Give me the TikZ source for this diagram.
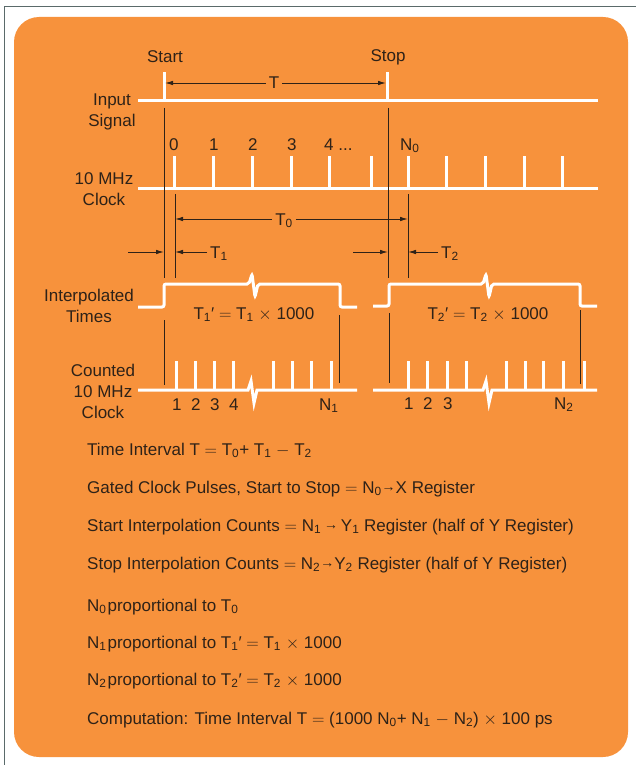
\documentclass[tikz,border=0pt]{standalone}
\usepackage{fontspec}
\setmainfont{Liberation Sans}
\usepackage{xcolor}
\definecolor{panel-orange}{HTML}{F7923C}
\definecolor{panel-ink}{HTML}{2E2218}
\definecolor{panel-wave}{HTML}{FFFFFF}
\definecolor{panel-frame}{HTML}{5A6A6A}
\usetikzlibrary{arrows.meta}

\newcommand{\regarrow}{\raisebox{1.5pt}{\fontsize{14}{14}\selectfont →}}
\newcommand{\tms}{\(\times\)}
\newcommand{\eqs}{\(=\)}
\newcommand{\mns}{\(-\)}

\tikzset{
    wave/.style={panel-wave, line width=3pt},
    guide/.style={panel-ink, line width=0.9pt},
    dim/.style={panel-ink, line width=0.9pt, -{Latex[length=8pt,width=4.5pt]}},
    lbl/.style={text=panel-ink, font=\fontsize{17}{21}\selectfont, inner sep=1pt},
    dimlbl/.style={lbl, text height=12pt, text depth=0pt, inner sep=3pt},
    sidelbl/.style={lbl, align=center},
    listlbl/.style={lbl, anchor=base west},
}

\begin{document}
\begin{tikzpicture}[x=1pt, y=-1pt]

    \useasboundingbox (0,0) rectangle (636,765);

    % Frame
    \draw[panel-frame, line width=0.8pt] (4,765) -- (4,6) -- (636,6);

    % Background
    \fill[panel-orange, rounded corners=25pt] (14,17) rectangle (628,757);

    % Input signal
    \draw[wave] (138,101) -- (598,101);
    \draw[wave] (164,101) -- (164,72);
    \draw[wave] (387,101) -- (387,72);

    % 10 MHz clock
    \draw[wave] (138,188) -- (598,188);
    \foreach \x in {174,213,252,291,329,371,408,446,485,524,562}
        \draw[wave] (\x,188) -- (\x,156);

    % Interpolated times
    \draw[wave, rounded corners=2pt] (138,307) -- (164,307) -- (164,284) -- (249,284)
        -- (252,274) -- (255,297) -- (258,284) -- (340,284) -- (340,307) -- (357,307);
    \draw[wave, rounded corners=2pt] (373,306) -- (389,306) -- (389,284) -- (483,284)
        -- (486,274) -- (489,297) -- (492,284) -- (580,284) -- (580,306) -- (597,306);

    % Counted clock
    \draw[wave] (138,390) -- (248,390) -- (251,381) -- (254,403) -- (257,390) -- (357,390);
    \foreach \x in {176,195,214,233,273,292,311,331}
        \draw[wave] (\x,390) -- (\x,361);
    \draw[wave] (373,390) -- (483,390) -- (486,381) -- (489,403) -- (492,390) -- (597,390);
    \foreach \x in {408,427,447,466,506,525,543,563,584}
        \draw[wave] (\x,390) -- (\x,361);

    % Guide lines
    \draw[guide] (164,108) -- (164,278);
    \draw[guide] (175,194) -- (175,278);
    \draw[guide] (388,108) -- (388,278);
    \draw[guide] (408,194) -- (408,278);
    \draw[guide] (164,320) -- (164,385);
    \draw[guide] (339,315) -- (339,383);
    \draw[guide] (389,313) -- (389,383);
    \draw[guide] (580,310) -- (580,384);

    % Signal names
    \node[lbl] (start) at (165,57) {Start};
    \node[lbl] (stop) at (388,57) {Stop};
    \node[sidelbl] (input) at (112,111.5) {Input\\Signal};
    \node[sidelbl] (clock) at (104,189.5) {10 MHz\\Clock};
    \node[sidelbl] (interp) at (89,306) {Interpolated\\Times};
    \node[sidelbl] (counted) at (103,391.5) {Counted\\10 MHz\\Clock};

    % Clock counts
    \node[listlbl] (c0) at (168,150) {0};
    \node[listlbl] (c1) at (208,150) {1};
    \node[listlbl] (c2) at (247,150) {2};
    \node[listlbl] (c3) at (286,150) {3};
    \node[listlbl] (c4) at (323,150) {4 ...};
    \node[listlbl] (cn0) at (399,150) {N\textsubscript{0}};

    \node[listlbl] (a1) at (171,410) {1};
    \node[listlbl] (a2) at (190,410) {2};
    \node[listlbl] (a3) at (209,410) {3};
    \node[listlbl] (a4) at (228,410) {4};
    \node[listlbl] (an1) at (318,410) {N\textsubscript{1}};
    \node[listlbl] (b1) at (403,409) {1};
    \node[listlbl] (b2) at (422,409) {2};
    \node[listlbl] (b3) at (442,409) {3};
    \node[listlbl] (bn2) at (553,409) {N\textsubscript{2}};

    % Interval T
    \node[dimlbl] (T) at (274,83) {T};
    \coordinate (tstart) at (165,83);
    \coordinate (tstop) at (386,83);
    \draw[dim] (T) -- (tstart);
    \draw[dim] (T) -- (tstop);

    % Interval T0
    \node[dimlbl] (T0) at (284,219) {T\textsubscript{0}};
    \coordinate (t0start) at (175,219);
    \coordinate (t0stop) at (408,219);
    \draw[dim] (T0) -- (t0start);
    \draw[dim] (T0) -- (t0stop);

    % Interval T1
    \node[dimlbl, anchor=west] (T1) at (207,252) {T\textsubscript{1}};
    \coordinate (t1tail) at (128,252);
    \coordinate (t1start) at (164,252);
    \coordinate (t1clock) at (175,252);
    \draw[dim] (t1tail) -- (t1start);
    \draw[dim] (T1.west) -- (t1clock);

    % Interval T2
    \node[dimlbl, anchor=west] (T2) at (438,252) {T\textsubscript{2}};
    \coordinate (t2tail) at (353,252);
    \coordinate (t2stop) at (388,252);
    \coordinate (t2clock) at (408,252);
    \draw[dim] (t2tail) -- (t2stop);
    \draw[dim] (T2.west) -- (t2clock);

    % Stretched intervals
    \node[dimlbl] (t1prime) at (254,313) {T\textsubscript{1}′ \eqs\ T\textsubscript{1} \tms\ 1000};
    \node[dimlbl] (t2prime) at (488,313) {T\textsubscript{2}′ \eqs\ T\textsubscript{2} \tms\ 1000};

    % Relations
    \node[listlbl] (eqint) at (86,455) {Time Interval T \eqs\ T\textsubscript{0}+ T\textsubscript{1} \mns\ T\textsubscript{2}};
    \node[listlbl] (eqgate) at (86,493) {Gated Clock Pulses, Start to Stop \eqs\ N\textsubscript{0}\regarrow X Register};
    \node[listlbl] (eqstart) at (86,531) {Start Interpolation Counts \eqs\ N\textsubscript{1}\,\regarrow\,Y\textsubscript{1} Register (half of Y Register)};
    \node[listlbl] (eqstop) at (86,569) {Stop Interpolation Counts \eqs\ N\textsubscript{2}\regarrow Y\textsubscript{2} Register (half of Y Register)};
    \node[listlbl] (propn0) at (86,611) {N\textsubscript{0}\kern1pt proportional to T\textsubscript{0}};
    \node[listlbl] (propn1) at (86,648) {N\textsubscript{1}\kern1pt proportional to T\textsubscript{1}′ \eqs\ T\textsubscript{1} \tms\ 1000};
    \node[listlbl] (propn2) at (86,685) {N\textsubscript{2}\kern1pt proportional to T\textsubscript{2}′ \eqs\ T\textsubscript{2} \tms\ 1000};
    \node[listlbl] (compute) at (86,724) {Computation: Time Interval T \eqs\ (1000 N\textsubscript{0}+ N\textsubscript{1} \mns\ N\textsubscript{2}) \tms\ 100 ps};

\end{tikzpicture}
\end{document}
